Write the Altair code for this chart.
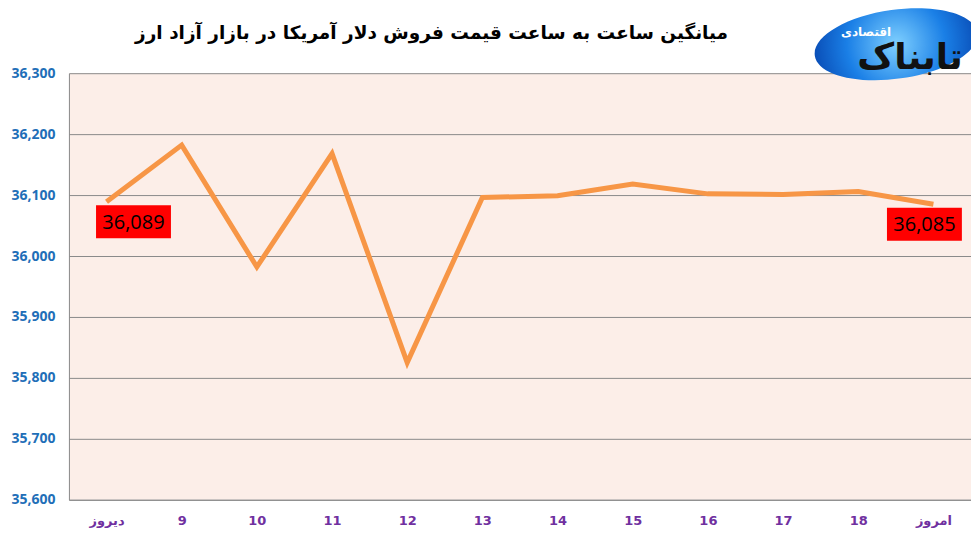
import altair as alt
import pandas as pd

# hourly average of the dollar sell price (free market)
hours = ["دیروز", "9", "10", "11", "12", "13", "14", "15", "16", "17", "18", "امروز"]
prices = [36089, 36182, 35982, 36168, 35825, 36096, 36099, 36118, 36102, 36101, 36106, 36085]
y_ticks = [35600, 35700, 35800, 35900, 36000, 36100, 36200, 36300]

title_text = "میانگین ساعت به ساعت قیمت فروش دلار آمریکا در بازار آزاد ارز"

df = pd.DataFrame({"hour": hours, "price": prices})

x_enc = alt.X("hour:N", sort=hours, title=None,
              scale=alt.Scale(type="point", padding=0.5),
              axis=alt.Axis(labelAngle=0, labelColor="#7030A0", labelFont="DejaVu Sans",
                            labelFontSize=13, labelFontWeight="bold", labelPadding=15,
                            ticks=False, domainColor="#8a8a8a", grid=False))
y_enc = alt.Y("price:Q", title=None,
              scale=alt.Scale(domain=[35600, 36300], nice=False, zero=False),
              axis=alt.Axis(values=y_ticks, format=",.0f", labelColor="#1F6FB8",
                            labelFont="Open Sans", labelFontSize=14, labelFontWeight="bold",
                            labelPadding=14, ticks=False, domainColor="#8a8a8a",
                            gridColor="#8a8a8a", gridOpacity=1))

base = alt.Chart(df)
line = base.mark_line(color="#F79646", strokeWidth=5).encode(x=x_enc, y=y_enc)

box_shape = "M -1 -0.44 L 1 -0.44 L 1 0.44 L -1 0.44 Z"

def value_label(name, dx):
    sub = base.transform_filter(alt.datum.hour == name)
    box = sub.mark_point(shape=box_shape, size=5625, filled=True, fill="#FF0000",
                         opacity=1, strokeWidth=0, xOffset=dx, yOffset=20).encode(
        x=alt.X("hour:N", sort=hours), y="price:Q")
    txt = sub.mark_text(font="Open Sans", fontSize=20, color="black",
                        dx=dx, dy=21).encode(
        x=alt.X("hour:N", sort=hours), y="price:Q",
        text=alt.Text("price:Q", format=","))
    return box + txt

one = alt.Chart(pd.DataFrame({"k": [0]}))
heading = one.mark_text(text=title_text, font="DejaVu Sans", fontSize=18.5,
                        fontWeight="bold", color="black", baseline="middle").encode(
    x=alt.value(363), y=alt.value(-40))
logo_oval = one.mark_point(
    shape="M -1 0 A 1 0.42 0 1 0 1 0 A 1 0.42 0 1 0 -1 0 Z",
    size=27000, filled=True, opacity=1, strokeWidth=0, angle=352,
    fill={"gradient": "radial",
          "stops": [{"offset": 0, "color": "#7fd0ff"},
                    {"offset": 0.6, "color": "#1a7fe6"},
                    {"offset": 1, "color": "#0a4fb8"}]}
).encode(x=alt.value(828), y=alt.value(-29))
logo_big = one.mark_text(text="تابناک", font="DejaVu Sans", fontSize=36,
                         fontWeight="bold", color="#111111").encode(
    x=alt.value(842), y=alt.value(-15))
logo_small = one.mark_text(text="اقتصادی", font="DejaVu Sans", fontSize=12,
                           fontWeight="bold", color="white").encode(
    x=alt.value(798), y=alt.value(-41))

chart = alt.layer(
    line, value_label("دیروز", 27), value_label("امروز", -9),
    heading, logo_oval, logo_big, logo_small
).properties(
    width=903, height=427,
    autosize="none",
    padding={"left": 61, "top": 65, "right": 0, "bottom": 30}
).configure(background="white").configure_view(stroke=None, fill="#FCEEE8")

chart.save("out.html", embed_options={"renderer": "svg", "actions": False})
